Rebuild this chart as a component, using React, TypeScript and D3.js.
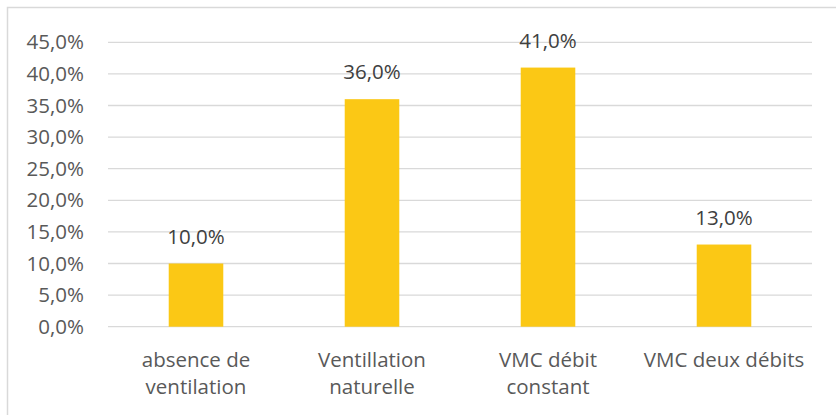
import { useEffect, useRef } from 'react';
import * as d3 from 'd3';

const categories = [
  ['absence de', 'ventilation'],
  ['Ventillation', 'naturelle'],
  ['VMC débit', 'constant'],
  ['VMC deux débits'],
];
const values = [10, 36, 41, 13];
const yTicks = [0, 5, 10, 15, 20, 25, 30, 35, 40, 45];

const fmt = (v: number) => v.toFixed(1).replace('.', ',') + '%';

export default function App() {
  const ref = useRef<SVGSVGElement>(null);

  useEffect(() => {
    if (!ref.current) return;
    const width = 836;
    const height = 415;
    const svg = d3.select(ref.current);
    svg.selectAll('*').remove();

    const plot = { left: 108, right: 812, top: 42.3, bottom: 326.7 };
    const font = 'Open Sans, sans-serif';
    const fs = '20.5px';

    // chart frame
    svg.append('rect')
      .attr('x', 7.5).attr('y', 7.5)
      .attr('width', width + 10).attr('height', height + 10)
      .attr('fill', '#fff')
      .attr('stroke', '#d9d9d9')
      .attr('stroke-width', 1.5);

    const x = d3.scaleBand<number>()
      .domain(categories.map((_, i) => i))
      .range([plot.left, plot.right])
      .paddingInner(0.69)
      .paddingOuter(0.345);

    const y = d3.scaleLinear().domain([0, 45]).range([plot.bottom, plot.top]);

    // gridlines
    svg.append('g')
      .selectAll('line')
      .data(yTicks)
      .join('line')
      .attr('x1', plot.left).attr('x2', plot.right)
      .attr('y1', d => y(d)).attr('y2', d => y(d))
      .attr('stroke', '#d9d9d9')
      .attr('stroke-width', 1.3);

    // y labels
    svg.append('g')
      .selectAll('text')
      .data(yTicks)
      .join('text')
      .attr('x', 84)
      .attr('y', d => y(d))
      .attr('dy', '0.35em')
      .attr('text-anchor', 'end')
      .style('font-family', font)
      .style('font-size', fs)
      .style('fill', '#595959')
      .text(d => fmt(d));

    // bars
    svg.append('g')
      .selectAll('rect')
      .data(values)
      .join('rect')
      .attr('x', (_, i) => x(i)!)
      .attr('width', x.bandwidth())
      .attr('y', d => y(d))
      .attr('height', d => y(0) - y(d))
      .attr('fill', '#fbc815');

    // data labels
    svg.append('g')
      .selectAll('text')
      .data(values)
      .join('text')
      .attr('x', (_, i) => x(i)! + x.bandwidth() / 2)
      .attr('y', d => y(d) - 27)
      .attr('dy', '0.35em')
      .attr('text-anchor', 'middle')
      .style('font-family', font)
      .style('font-size', fs)
      .style('fill', '#404040')
      .text(d => fmt(d));

    // category labels
    const cat = svg.append('g')
      .selectAll('text')
      .data(categories)
      .join('text')
      .attr('x', (_, i) => x(i)! + x.bandwidth() / 2)
      .attr('y', 360)
      .attr('text-anchor', 'middle')
      .style('font-family', font)
      .style('font-size', fs)
      .style('fill', '#595959');
    cat.selectAll('tspan')
      .data(d => d)
      .join('tspan')
      .attr('x', function () {
        return (this.parentNode as SVGTextElement).getAttribute('x');
      })
      .attr('y', (_, j) => 360 + j * 26.7)
      .attr('dy', '0.35em')
      .text(d => d);
  }, []);

  return (
    <svg
      ref={ref}
      width={836}
      height={415}
      style={{ position: 'absolute', left: 0, top: 0, display: 'block' }}
    />
  );
}
